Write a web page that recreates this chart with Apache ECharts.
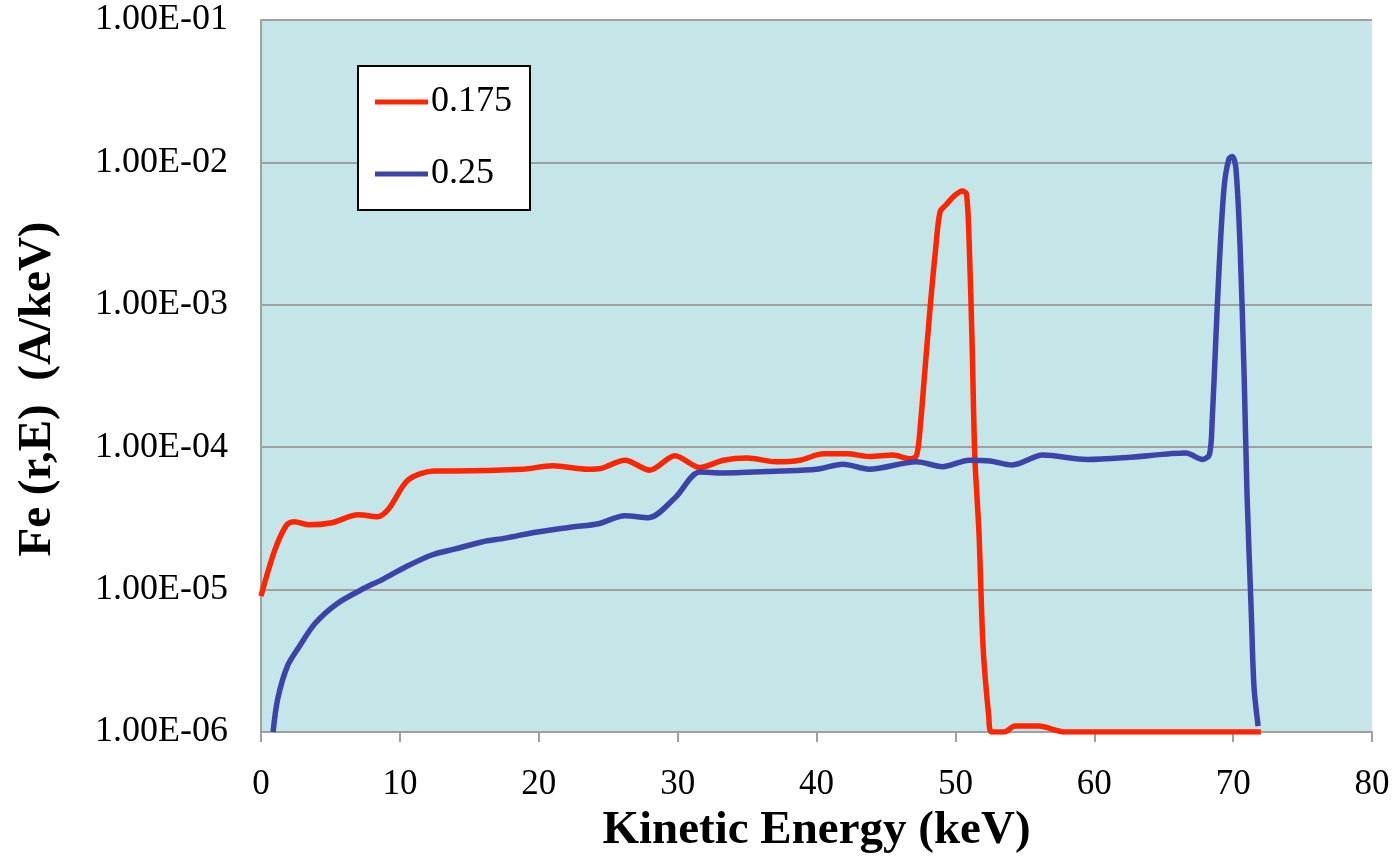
<!DOCTYPE html>
<html>
<head>
<meta charset="utf-8">
<script src="https://cdn.jsdelivr.net/npm/echarts@6/dist/echarts.min.js"></script>
<style>
 html, body { margin: 0; padding: 0; background: #fff; }
 #main { width: 1399px; height: 862px; }
</style>
</head>
<body>
<div id="main"></div>
<script>
// energy (keV) and Fe(r,E) (A/keV)
var redE = [0, 1.0, 1.85, 2.4, 3.4, 5.1, 7.0, 8.4, 9.2, 10.6, 12.5, 14.0, 18.8, 21.0, 23.5, 24.5, 26.2, 28.0, 29.8, 31.6,
  33.3, 35.0, 37.1, 38.8, 40.5, 42.2, 43.8, 45.5, 46.7, 47.2, 47.5, 47.8, 48.2, 48.6, 48.9, 49.3, 49.9, 50.5, 50.8,
  51.0, 51.2, 51.4, 51.7, 52.0, 52.4, 52.6, 53.5, 54.3, 56.0, 57.9, 72.0];
var redF = [9.0e-6, 1.9e-5, 2.85e-5, 3.0e-5, 2.85e-5, 2.95e-5, 3.35e-5, 3.25e-5, 3.7e-5, 5.9e-5, 6.8e-5, 6.8e-5, 7.0e-5,
  7.4e-5, 7.0e-5, 7.1e-5, 8.1e-5, 6.9e-5, 8.7e-5, 7.2e-5, 8.1e-5, 8.4e-5, 7.9e-5, 8.1e-5, 9.0e-5, 9.0e-5, 8.6e-5,
  8.8e-5, 8.3e-5, 8.7e-5, 1.5e-4, 3.4e-4, 1.0e-3, 2.6e-3, 4.5e-3, 5.0e-3, 5.8e-3, 6.3e-3, 6.0e-3, 2.6e-3, 5.6e-4,
  8.7e-5, 2.5e-5, 3.9e-6, 1.3e-6, 1.0e-6, 1.0e-6, 1.1e-6, 1.1e-6, 1.0e-6, 1.0e-6];

var blueE = [0.87, 1.2, 1.9, 2.7, 3.9, 5.5, 7.5, 8.7, 10.4, 12.3, 14.0, 15.9, 17.6, 19.9, 22.4, 24.3, 26.2, 27.9, 29.8,
  31.6, 33.3, 37.4, 40.0, 41.9, 43.8, 47.2, 49.1, 51.0, 52.5, 54.1, 56.3, 59.5, 62.6, 66.6, 67.8, 68.3, 68.5, 68.75,
  69.0, 69.35, 69.7, 69.95, 70.2, 70.5, 70.8, 71.0, 71.3, 71.5, 71.8];
var blueF = [1.0e-6, 1.7e-6, 2.9e-6, 3.9e-6, 5.8e-6, 8.0e-6, 1.03e-5, 1.17e-5, 1.44e-5, 1.75e-5, 1.93e-5, 2.16e-5, 2.3e-5,
  2.54e-5, 2.75e-5, 2.9e-5, 3.3e-5, 3.2e-5, 4.4e-5, 6.7e-5, 6.6e-5, 6.8e-5, 7.0e-5, 7.6e-5, 7.0e-5, 7.9e-5, 7.3e-5,
  8.1e-5, 8.0e-5, 7.5e-5, 8.8e-5, 8.2e-5, 8.5e-5, 9.1e-5, 8.2e-5, 8.9e-5, 1.6e-4, 5.6e-4, 1.9e-3, 6.7e-3, 1.06e-2,
  1.1e-2, 9.1e-3, 2.6e-3, 3.0e-4, 4.7e-5, 7.2e-6, 2.1e-6, 1.1e-6];

var seriesNames = ['0.175', '0.25'];
var seriesColors = ['#FF2500', '#3C44A9'];

function pairs(xs, ys) {
  return xs.map(function (x, i) { return [x, ys[i]]; });
}

// Excel style label, e.g. 1.00E-04
function sci(v) {
  var e = Math.floor(Math.log10(v) + 1e-9);
  var m = v / Math.pow(10, e);
  var s = e < 0 ? '-' : '+';
  var a = Math.abs(e);
  return m.toFixed(2) + 'E' + s + (a < 10 ? '0' + a : a);
}

var font = '"Liberation Serif", "Times New Roman", serif';
var grey = '#A0A0A0';

var chart = echarts.init(document.getElementById('main'));
chart.setOption({
  animation: false,
  textStyle: { fontFamily: font, color: '#000' },
  grid: {
    left: 261, right: 27, top: 20, bottom: 130,
    show: true, backgroundColor: '#C5E6E8', borderWidth: 0
  },
  legend: {
    orient: 'vertical',
    left: 358, top: 66,
    padding: [18, 18, 18, 17],
    itemGap: 36,
    itemWidth: 53,
    itemHeight: 5,
    icon: 'rect',
    backgroundColor: '#fff',
    borderColor: '#000',
    borderWidth: 2,
    borderRadius: 0,
    textStyle: { fontFamily: font, fontSize: 36, lineHeight: 36, color: '#000', padding: [0, 0, 0, -2] },
    data: seriesNames
  },
  xAxis: {
    type: 'value',
    min: 0, max: 80, interval: 10,
    name: 'Kinetic Energy (keV)',
    nameLocation: 'middle',
    nameGap: 72,
    nameTextStyle: { fontFamily: font, fontSize: 47, fontWeight: 'bold', color: '#000' },
    axisLine: { show: true, lineStyle: { color: grey, width: 2 } },
    axisTick: { show: true, length: 10, lineStyle: { color: grey, width: 2 } },
    axisLabel: { fontFamily: font, fontSize: 35, color: '#000', margin: 35 },
    splitLine: { show: false }
  },
  yAxis: {
    type: 'log',
    logBase: 10,
    min: 1e-6, max: 1e-1,
    name: 'Fe (r,E)  (A/keV)',
    nameLocation: 'middle',
    nameGap: 200,
    nameTextStyle: { fontFamily: font, fontSize: 47, fontWeight: 'bold', color: '#000', padding: [0, 26, 0, 0] },
    axisLine: { show: true, lineStyle: { color: grey, width: 2 } },
    axisTick: { show: false },
    axisLabel: { fontFamily: font, fontSize: 36, color: '#000', margin: 33, formatter: sci },
    splitLine: { show: true, lineStyle: { color: grey, width: 2 } },
    minorTick: { show: false }
  },
  series: [
    {
      name: seriesNames[0],
      type: 'line',
      data: pairs(redE, redF),
      smooth: 0.3,
      showSymbol: false,
      symbol: 'none',
      color: seriesColors[0],
      lineStyle: { width: 5.5, color: seriesColors[0] }
    },
    {
      name: seriesNames[1],
      type: 'line',
      data: pairs(blueE, blueF),
      smooth: 0.3,
      showSymbol: false,
      symbol: 'none',
      color: seriesColors[1],
      lineStyle: { width: 5.5, color: seriesColors[1] }
    }
  ]
});
</script>
</body>
</html>
